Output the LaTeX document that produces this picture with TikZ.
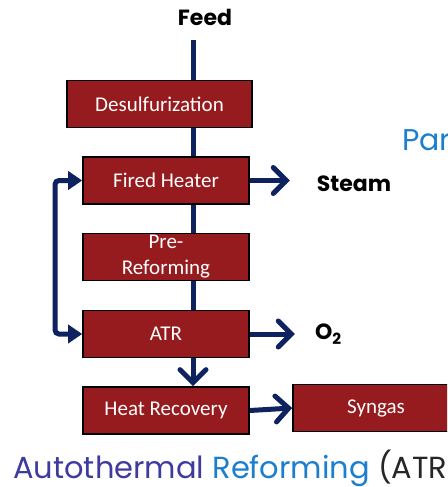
\documentclass[tikz,border=0pt]{standalone}
\usepackage{fontspec}
\usepackage{xcolor}
\usetikzlibrary{arrows.meta, positioning, calc, backgrounds}

\newfontfamily\boxfont{Carlito}
\newfontfamily\headfont{Poppins}

\definecolor{boxred}{RGB}{150,27,30}
\definecolor{navyflow}{RGB}{14,34,96}
\definecolor{atrpurple}{RGB}{62,58,160}
\definecolor{atrblue}{RGB}{28,126,204}

\begin{document}
\begin{tikzpicture}[
    x=1pt, y=-1pt,
    unit/.style={rectangle, draw=black, line width=1.6pt, fill=boxred, text=white,
      minimum width=166pt, minimum height=47pt, inner sep=0pt, align=center,
      font=\boxfont\fontsize{21}{26}\selectfont},
    flow/.style={draw=navyflow, line width=5pt},
    outflow/.style={flow, -{Straight Barb[length=13pt, width=26pt, line cap=round]}},
    loopflow/.style={flow, rounded corners=4pt, {Triangle[length=14pt, width=18pt]}-{Triangle[length=14pt, width=18pt]}},
    stream/.style={font=\headfont\bfseries\fontsize{22}{26}\selectfont, inner sep=0pt}
  ]
  \useasboundingbox (0,0) rectangle (447,487);
  \clip (0,0) rectangle (447,487);

  % process units
  \node (desulf) [unit, minimum width=185pt] at (159.5,104) {Desulfurization};
  \node (heater) [unit] at (166,180.5) {Fired Heater};
  \node (prerefo) [unit] at (166,257) {Pre-\\Reforming};
  \node (atr) [unit] at (166,334) {ATR};
  \node (recovery) [unit] at (166,410.5) {Heat Recovery};
  \node (syngas) [unit] at (376,408) {Syngas};

  % streams
  \node (feed) [stream] at (205,17) {Feed};
  \node (steam) [stream] at (354,184) {Steam};
  \node (oxygen) [stream, anchor=west] at (315,334) {O\textsubscript{2}};

  \coordinate (feedtop) at (193,40);
  \coordinate (loopx) at (55,0);

  \begin{scope}[on background layer]
    \draw [flow] (feedtop) -- (atr.north -| feedtop);
  \end{scope}

  \draw [outflow] (heater.east) -- ++(40,0);
  \draw [outflow] (atr.east) -- ++(45,0);
  \draw [outflow] (atr.south -| feedtop) -- (recovery.north -| feedtop);
  \draw [outflow] (recovery.east) -- (syngas.west);
  \draw [loopflow] (heater.west) -- (heater.west -| loopx) -- (atr.west -| loopx) -- (atr.west);

  % headings
  \node (partial) [anchor=base west, inner sep=0pt, text=atrblue,
    font=\headfont\fontsize{30}{34}\selectfont] at (402,150) {Par};
  \node (title) [anchor=base west, inner sep=0pt,
    font=\headfont\fontsize{30.5}{34}\selectfont] at (13,478)
    {\textcolor{atrpurple}{Autothermal} \textcolor{atrblue}{Reforming} \textcolor{black!85}{(ATR)}};
\end{tikzpicture}
\end{document}
